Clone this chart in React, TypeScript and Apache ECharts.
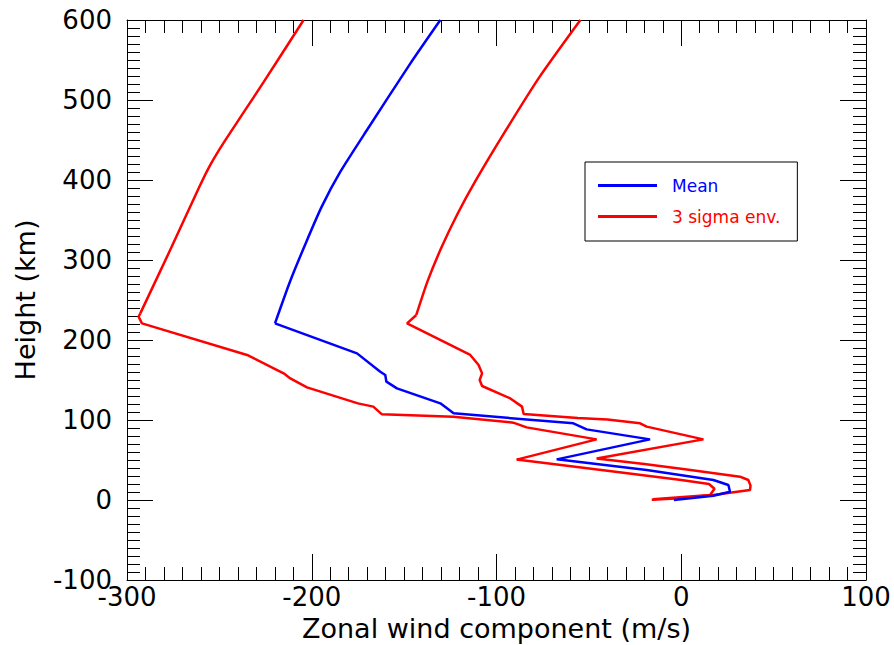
import React, { useEffect, useRef } from "react";
import * as echarts from "echarts";

// Mean zonal wind profile (m/s) vs height (km)
const meanWind = [-130.4, -146.6, -170.1, -184.5, -194.6, -202.9, -211.8, -219.9, -175.5, -162.9, -160.2, -159.6, -153.9, -130.4, -123.2, -58.4, -51.2, -16.9, -67.4, -18.7, 17.4, 25.5, 26.4, 17.4, -4];
const meanHeight = [600, 545.8, 462.5, 410.4, 366.7, 322.9, 272.9, 220.8, 183.3, 160.4, 156.3, 147.9, 139.6, 120.8, 108.3, 95.8, 88.3, 75.8, 50.8, 37.5, 25, 18.8, 10.4, 5.4, 0];

// Lower 3-sigma envelope
const lowWind = [-204.4, -225.9, -247.3, -254.9, -261.2, -276.2, -292.8, -293.7, -291.9, -235, -220.6, -215.2, -211.6, -202.6, -175, -166.7, -162, -123.4, -90.9, -83.7, -45.8, -89.1, -40, 0, 15, 18, 15.6, -15.3];
const lowHeight = [600, 522.9, 447.9, 418.8, 389.6, 314.6, 233.3, 229, 220.8, 181.3, 164.6, 158.3, 152, 140.8, 120.8, 116.7, 107.1, 104.2, 96.7, 90.8, 75.8, 50.5, 36.5, 25, 20, 14, 6.3, 0.8];

// Upper 3-sigma envelope
const highWind = [-54.6, -76.6, -95.4, -111.6, -121.4, -130, -137.4, -143.4, -148.4, -114.2, -109.7, -107.8, -109.1, -107.8, -92.5, -86.2, -85.3, -56, -40, -22.3, -18.7, 12, -45.8, -20, 3, 31.8, 36.3, 37.5, 37.2, 17.4, -0.7, -16];
const highHeight = [600, 529.2, 460.4, 397.9, 356.3, 314.6, 272.9, 231.3, 220.8, 181.3, 168.8, 158.3, 150, 142.5, 127, 116.7, 107.5, 102.5, 100.5, 95.8, 91.7, 75.8, 52, 45, 38, 29.2, 25, 18, 12.5, 6.3, 2.1, 0.3];

// index where the smooth thermospheric part of each profile ends
const meanSplit = 7;
const lowSplit = 6;
const highSplit = 7;

const xTicks = { min: -300, max: 100, interval: 100 };
const yTicks = { min: -100, max: 600, interval: 100 };

const FONT = "DejaVu Sans";
const RED = "#ff0000";
const BLUE = "#0000ff";

const zip = (xs: number[], ys: number[]) => xs.map((x, i) => [x, ys[i]]);

function axisBase(extra: any) {
  return {
    type: "value",
    splitLine: { show: false },
    axisLine: { show: true, onZero: false, lineStyle: { color: "#000", width: 1 } },
    axisTick: { show: true, inside: true, length: 26, lineStyle: { color: "#000", width: 1 } },
    minorTick: { show: true, splitNumber: 10, length: 13, lineStyle: { color: "#000", width: 1 } },
    minorSplitLine: { show: false },
    ...extra,
  };
}

function profile(name: string, color: string, xs: number[], ys: number[], split: number) {
  const pts = zip(xs, ys);
  const common = {
    type: "line",
    name,
    symbol: "none",
    lineStyle: { color, width: 2.5 },
    itemStyle: { color },
  };
  return [
    { ...common, data: pts.slice(0, split + 1), smooth: 0.2 },
    { ...common, data: pts.slice(split) },
  ];
}

export default function App() {
  const ref = useRef<HTMLDivElement>(null);
  useEffect(() => {
    document.body.style.margin = "0";
    const chart = echarts.init(ref.current!, null, { renderer: "svg", width: 894, height: 645 });
    const option: any = {
      animation: false,
      backgroundColor: "#fff",
      grid: { left: 127, top: 20, width: 739, height: 560, containLabel: false, outerBoundsMode: "none" },
      legend: {
        show: true,
        orient: "vertical",
        left: 585,
        top: 162,
        backgroundColor: "#fff",
        borderColor: "#000",
        borderWidth: 1,
        borderRadius: 0,
        padding: [15, 17, 16, 13],
        itemWidth: 59,
        itemHeight: 3,
        itemGap: 14,
        icon: "rect",
        selectedMode: false,
        textStyle: { fontSize: 17, fontFamily: FONT, padding: [0, 0, 0, 10] },
        data: [
          { name: "Mean", textStyle: { color: BLUE } },
          { name: "3 sigma env.", textStyle: { color: RED } },
        ],
      },
      xAxis: [
        axisBase({
          ...xTicks,
          position: "bottom",
          axisLabel: { show: true, fontSize: 26, color: "#000", margin: 4, fontFamily: FONT },
          name: "Zonal wind component (m/s)",
          nameLocation: "middle",
          nameGap: 30,
          nameTextStyle: { fontSize: 27, color: "#000", fontFamily: FONT },
        }),
        axisBase({ ...xTicks, position: "top", axisLabel: { show: false } }),
      ],
      yAxis: [
        axisBase({
          ...yTicks,
          position: "left",
          axisLabel: { show: true, fontSize: 26, color: "#000", margin: 15, fontFamily: FONT },
          name: "Height (km)",
          nameLocation: "middle",
          nameGap: 88,
          nameTextStyle: { fontSize: 27, color: "#000", fontFamily: FONT },
        }),
        axisBase({ ...yTicks, position: "right", axisLabel: { show: false } }),
      ],
      series: [
        ...profile("3 sigma env.", RED, lowWind, lowHeight, lowSplit),
        ...profile("3 sigma env.", RED, highWind, highHeight, highSplit),
        ...profile("Mean", BLUE, meanWind, meanHeight, meanSplit),
      ],
    };
    chart.setOption(option);
    return () => chart.dispose();
  }, []);
  return <div ref={ref} style={{ width: 894, height: 645, position: "absolute", left: 0, top: 0 }} />;
}
